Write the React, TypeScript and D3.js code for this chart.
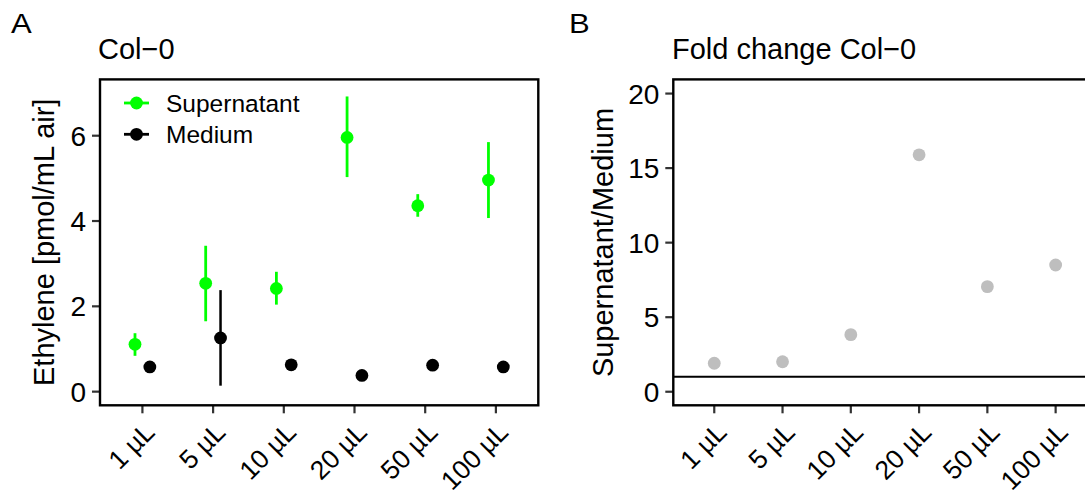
import React from 'react';
import * as d3 from 'd3';

// doses on the x axis (shared by both panels)
const doses = ['1 µL', '5 µL', '10 µL', '20 µL', '50 µL', '100 µL'];

// panel A: ethylene [pmol/mL air], mean with lower / upper error bar ends
const superMean = [1.11, 2.54, 2.42, 5.96, 4.36, 4.96];
const superLow = [0.84, 1.65, 2.04, 5.03, 4.10, 4.07];
const superHigh = [1.37, 3.42, 2.81, 6.92, 4.63, 5.85];
const mediumMean = [0.58, 1.26, 0.63, 0.38, 0.62, 0.58];
const mediumLow = [0.52, 0.14, 0.57, 0.33, 0.56, 0.52];
const mediumHigh = [0.64, 2.38, 0.69, 0.43, 0.68, 0.64];

// panel B: fold change supernatant / medium
const foldChange = [1.91, 2.01, 3.83, 15.89, 7.05, 8.5];

const ticksA = [0, 2, 4, 6];
const ticksB = [0, 5, 10, 15, 20];

const W = 1085;
const H = 495;
const FONT = '"Liberation Sans", Arial, Helvetica, sans-serif';
const GREEN = '#00FF00';
const GREY = '#BEBEBE';
const TICK = '#333333';

const top = 79.4;
const bottom = 405.3;

const App = () => {
  // panel A scales
  const xA = d3.scalePoint<string>().domain(doses).range([100, 538.3]).padding(0.6);
  const yA = d3.scaleLinear().domain([-0.32, 7.32]).range([bottom, top]);
  const dodge = xA.step() * 0.105;

  // panel B scales (right edge runs past the picture)
  const xB = d3.scalePoint<string>().domain(doses).range([673.3, 1096.6]).padding(0.6);
  const yB = d3.scaleLinear().domain([-0.91, 20.95]).range([bottom, top]);

  const xTickLabels = (x: d3.ScalePoint<string>) =>
    doses.map(d => (
      <g key={d}>
        <line x1={x(d)} x2={x(d)} y1={bottom} y2={bottom + 8} stroke={TICK} strokeWidth={2.2} />
        <text
          transform={`translate(${x(d)},420) rotate(-45)`}
          textAnchor="end"
          dy="0.74em"
          fontSize={26.5}
        >
          {d}
        </text>
      </g>
    ));

  const yTickLabels = (y: d3.ScaleLinear<number, number>, ticks: number[], left: number) =>
    ticks.map(t => (
      <g key={t}>
        <line x1={left - 8} x2={left} y1={y(t)} y2={y(t)} stroke={TICK} strokeWidth={2.2} />
        <text x={left - 14} y={y(t)} dy="0.36em" textAnchor="end" fontSize={28}>
          {t}
        </text>
      </g>
    ));

  return (
    <svg
      width={W}
      height={H}
      style={{ position: 'absolute', left: 0, top: 0, background: 'white' }}
      fontFamily={FONT}
      fill="#000"
    >
      {/* ---------- panel A ---------- */}
      <text transform="translate(11,33) scale(1.15,1)" fontSize={27}>A</text>
      <text x={98} y={59} fontSize={29}>Col−0</text>
      <text transform="translate(54,242.3) rotate(-90)" textAnchor="middle" fontSize={29}>
        Ethylene [pmol/mL air]
      </text>

      {yTickLabels(yA, ticksA, 100)}
      {xTickLabels(xA)}

      {/* error bars */}
      {doses.map((d, i) => (
        <g key={'eb' + d}>
          <line
            x1={xA(d)! - dodge} x2={xA(d)! - dodge}
            y1={yA(superLow[i])} y2={yA(superHigh[i])}
            stroke={GREEN} strokeWidth={2.8}
          />
          <line
            x1={xA(d)! + dodge} x2={xA(d)! + dodge}
            y1={yA(mediumLow[i])} y2={yA(mediumHigh[i])}
            stroke="#000" strokeWidth={2.5}
          />
        </g>
      ))}
      {/* points */}
      {doses.map((d, i) => (
        <g key={'pt' + d}>
          <circle cx={xA(d)! - dodge} cy={yA(superMean[i])} r={6.4} fill={GREEN} />
          <circle cx={xA(d)! + dodge} cy={yA(mediumMean[i])} r={6.4} fill="#000" />
        </g>
      ))}

      {/* legend */}
      {[
        { label: 'Supernatant', color: GREEN, y: 103 },
        { label: 'Medium', color: '#000', y: 134.3 },
      ].map(k => (
        <g key={k.label}>
          <line x1={124} x2={149} y1={k.y} y2={k.y} stroke={k.color} strokeWidth={2.8} />
          <circle cx={136.5} cy={k.y} r={6.4} fill={k.color} />
          <text x={166} y={k.y} dy="0.36em" fontSize={24.5}>{k.label}</text>
        </g>
      ))}

      <rect
        x={100} y={top} width={438.3} height={bottom - top}
        fill="none" stroke="#000" strokeWidth={2.4}
      />

      {/* ---------- panel B ---------- */}
      <text transform="translate(569,33) scale(1.15,1)" fontSize={27}>B</text>
      <text x={672} y={59} fontSize={29}>Fold change Col−0</text>
      <text transform="translate(613,242.5) rotate(-90)" textAnchor="middle" fontSize={29}>
        Supernatant/Medium
      </text>

      {yTickLabels(yB, ticksB, 673.3)}
      {xTickLabels(xB)}

      <line x1={673.3} x2={1096.6} y1={yB(1)} y2={yB(1)} stroke="#000" strokeWidth={2} />
      {doses.map((d, i) => (
        <circle key={'fc' + d} cx={xB(d)} cy={yB(foldChange[i])} r={6.4} fill={GREY} />
      ))}

      <rect
        x={673.3} y={top} width={1096.6 - 673.3} height={bottom - top}
        fill="none" stroke="#000" strokeWidth={2.4}
      />
    </svg>
  );
};

export default App;
